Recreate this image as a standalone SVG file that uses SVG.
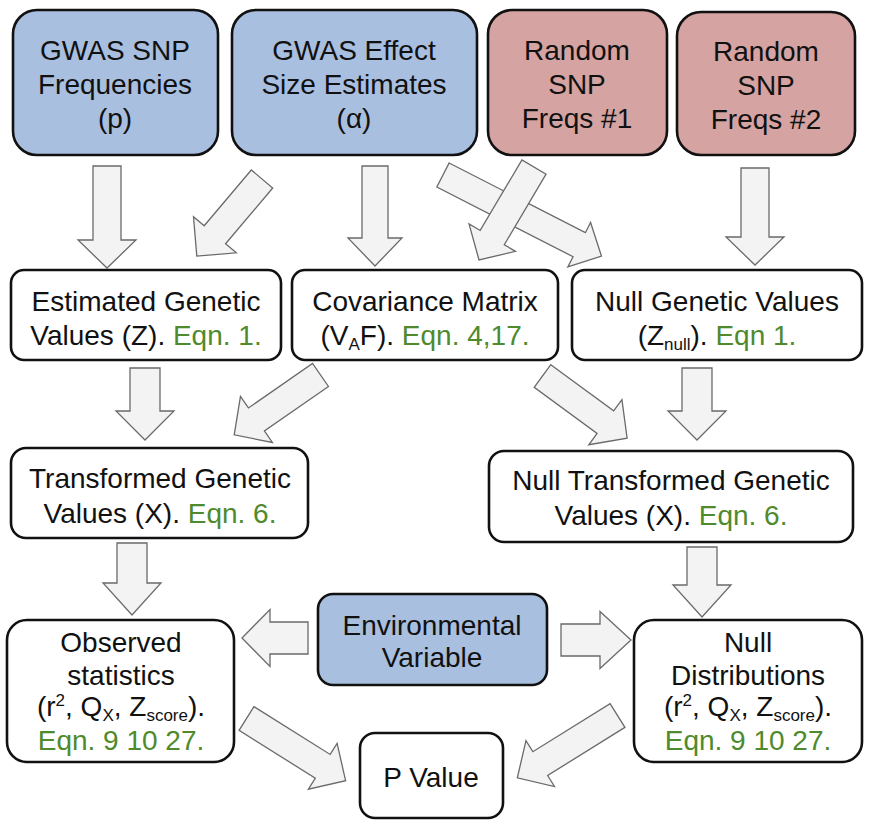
<svg xmlns="http://www.w3.org/2000/svg" width="872" height="828" viewBox="0 0 872 828">
<style>
text{font-family:"Liberation Sans",Arial,sans-serif;font-size:28px;fill:#111;text-anchor:middle}
.box{fill:#fff;stroke:#111;stroke-width:2.6}
.blue{fill:#a9bfdf}
.pink{fill:#d4a3a2}
.g{fill:#4f8a2c}
.arr{fill:#f3f3f3;stroke:#6a6a6a;stroke-width:1.3;stroke-linejoin:miter}
</style>
<rect width="872" height="828" fill="#fff"/>
<g id="connectors">
<polygon class="arr" transform="translate(107,166) rotate(90)" points="0,-14 74,-14 74,-29 102,0 74,29 74,14 0,14"/>
<polygon class="arr" transform="translate(262,179) rotate(130.2)" points="0,-14 73,-14 73,-28 101,0 73,28 73,14 0,14"/>
<polygon class="arr" transform="translate(375,166) rotate(90)" points="0,-13 72,-13 72,-27 100,0 72,27 72,13 0,13"/>
<polygon class="arr" transform="translate(443,175) rotate(27.1)" points="0,-13.5 153,-13.5 153,-25 178,0 153,25 153,13.5 0,13.5"/>
<polygon class="arr" transform="translate(534,167) rotate(120.6)" points="0,-14 82,-14 82,-27 108,0 82,27 82,14 0,14"/>
<polygon class="arr" transform="translate(755,168) rotate(90)" points="0,-14 69,-14 69,-29 97,0 69,29 69,14 0,14"/>
<polygon class="arr" transform="translate(145,368) rotate(90)" points="0,-15 43,-15 43,-29 72,0 43,29 43,15 0,15"/>
<polygon class="arr" transform="translate(320.5,375) rotate(145.25)" points="0,-14 78,-14 78,-28 105,0 78,28 78,14 0,14"/>
<polygon class="arr" transform="translate(542.5,376) rotate(36.3)" points="0,-14 78,-14 78,-28 105,0 78,28 78,14 0,14"/>
<polygon class="arr" transform="translate(697,368) rotate(90)" points="0,-15 43,-15 43,-29 72,0 43,29 43,15 0,15"/>
<polygon class="arr" transform="translate(132,543) rotate(90)" points="0,-15 40,-15 40,-29 72,0 40,29 40,15 0,15"/>
<polygon class="arr" transform="translate(702,547) rotate(90)" points="0,-15 38,-15 38,-29 70,0 38,29 38,15 0,15"/>
<polygon class="arr" transform="translate(308,638) rotate(180)" points="0,-16 38,-16 38,-28.5 66,0 38,28.5 38,16 0,16"/>
<polygon class="arr" transform="translate(561,640)" points="0,-16 39,-16 39,-28.5 70,0 39,28.5 39,16 0,16"/>
<polygon class="arr" transform="translate(246.5,718.5) rotate(32.1)" points="0,-14 90,-14 90,-27 117,0 90,27 90,14 0,14"/>
<polygon class="arr" transform="translate(617.5,715.5) rotate(148.1)" points="0,-14 91,-14 91,-27 118,0 91,27 91,14 0,14"/>
</g>
<g id="gwas-freq">
<rect class="box blue" x="13" y="10" width="205" height="145" rx="24"/>
<text x="115" y="60">GWAS SNP</text>
<text x="115" y="94">Frequencies</text>
<text x="115" y="128">(p)</text>
</g>
<g id="gwas-effect">
<rect class="box blue" x="232" y="10" width="245" height="145" rx="24"/>
<text x="354" y="60">GWAS Effect</text>
<text x="354" y="94">Size Estimates</text>
<text x="354" y="128">(α)</text>
</g>
<g id="random1">
<rect class="box pink" x="488" y="10" width="179" height="145" rx="24"/>
<text x="577" y="60">Random</text>
<text x="577" y="94">SNP</text>
<text x="577" y="128">Freqs #1</text>
</g>
<g id="random2">
<rect class="box pink" x="677" y="12" width="178" height="143" rx="24"/>
<text x="766" y="61">Random</text>
<text x="766" y="95">SNP</text>
<text x="766" y="129">Freqs #2</text>
</g>
<g id="estimated">
<rect class="box" x="11" y="270" width="270" height="90" rx="13"/>
<text x="146" y="311">Estimated Genetic</text>
<text x="146" y="345">Values (Z). <tspan class="g">Eqn. 1.</tspan></text>
</g>
<g id="covariance">
<rect class="box" x="292" y="270" width="266" height="90" rx="13"/>
<text x="425" y="311">Covariance Matrix</text>
<text x="425" y="345">(V<tspan font-size="17" dy="5">A</tspan><tspan dy="-5">F). </tspan><tspan class="g">Eqn. 4,17.</tspan></text>
</g>
<g id="null-genetic">
<rect class="box" x="572" y="270" width="290" height="90" rx="13"/>
<text x="717" y="311">Null Genetic Values</text>
<text x="717" y="345">(Z<tspan font-size="17" dy="5">null</tspan><tspan dy="-5">). </tspan><tspan class="g">Eqn 1.</tspan></text>
</g>
<g id="transformed">
<rect class="box" x="11" y="448" width="297" height="90" rx="15"/>
<text x="160" y="488">Transformed Genetic</text>
<text x="160" y="523">Values (X). <tspan class="g">Eqn. 6.</tspan></text>
</g>
<g id="null-transformed">
<rect class="box" x="489" y="451" width="364" height="91" rx="15"/>
<text x="671" y="490">Null Transformed Genetic</text>
<text x="671" y="525">Values (X). <tspan class="g">Eqn. 6.</tspan></text>
</g>
<g id="observed">
<rect class="box" x="7" y="620" width="227" height="142" rx="20"/>
<text x="121" y="652">Observed</text>
<text x="121" y="685">statistics</text>
<text x="121" y="716">(r<tspan font-size="17" dy="-10">2</tspan><tspan dy="10">, Q</tspan><tspan font-size="17" dy="5">X</tspan><tspan dy="-5">, Z</tspan><tspan font-size="17" dy="5">score</tspan><tspan dy="-5">).</tspan></text>
<text x="121" y="750" class="g">Eqn. 9 10 27.</text>
</g>
<g id="environmental">
<rect class="box blue" x="318" y="594" width="229" height="91" rx="15"/>
<text x="432" y="635">Environmental</text>
<text x="432" y="667">Variable</text>
</g>
<g id="null-dist">
<rect class="box" x="634" y="620" width="228" height="142" rx="20"/>
<text x="748" y="652">Null</text>
<text x="748" y="685">Distributions</text>
<text x="748" y="716">(r<tspan font-size="17" dy="-10">2</tspan><tspan dy="10">, Q</tspan><tspan font-size="17" dy="5">X</tspan><tspan dy="-5">, Z</tspan><tspan font-size="17" dy="5">score</tspan><tspan dy="-5">).</tspan></text>
<text x="748" y="750" class="g">Eqn. 9 10 27.</text>
</g>
<g id="pvalue">
<rect class="box" x="360" y="733" width="143" height="85" rx="15"/>
<text x="431" y="787">P Value</text>
</g>
</svg>
